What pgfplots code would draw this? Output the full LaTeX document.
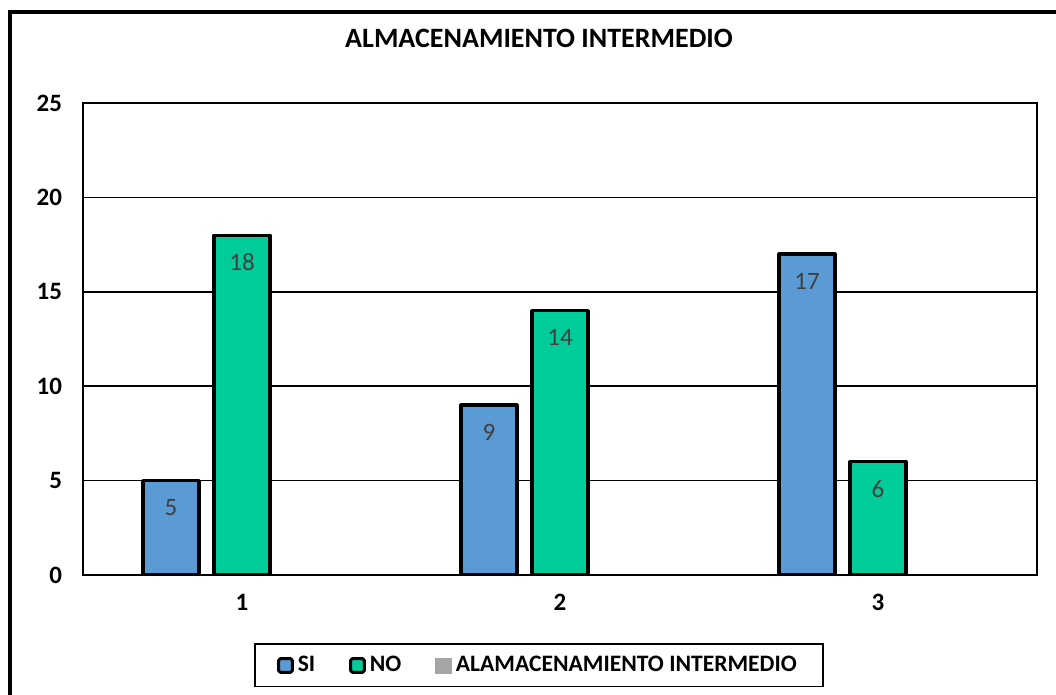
\documentclass[border=0pt]{standalone}
\usepackage{fontspec}
\setmainfont{Carlito}
\usepackage{pgfplots}
\pgfplotsset{compat=1.18}
\definecolor{siblue}{HTML}{5B9BD5}
\definecolor{nogreen}{HTML}{00CC99}
\definecolor{lbl}{HTML}{404040}
\definecolor{legray}{HTML}{A5A5A5}

\pgfplotsset{
  sqlegend/.style={legend image code/.code={%
    \draw[##1, line width=1.5pt, rounded corners=0.8pt] (0pt,-3.4pt) rectangle (6.8pt,3.4pt);}},
  graylegend/.style={legend image code/.code={%
    \fill[legray] (-0.3pt,-4pt) rectangle (7.2pt,3.5pt);}},
}

\begin{document}
\begin{tikzpicture}
\clip (-41.5pt,-60pt) rectangle (486.5pt,287.5pt);
% chart frame
\draw[black, line width=1.75pt] (-36.5pt,-67.5pt) rectangle (493.5pt,281.5pt);
\begin{axis}[
  at={(0pt,0pt)}, anchor=south west,
  scale only axis, width=477pt, height=236pt,
  xmin=0.5, xmax=3.5, ymin=0, ymax=25,
  xtick={1,2,3}, ytick={0,5,...,25},
  ymajorgrids, grid style={black, line width=0.75pt},
  axis line style={black, line width=0.75pt},
  major tick length=0pt,
  /pgf/number format/assume math mode=true,
  tick label style={font=\fontsize{12.5}{14}\selectfont\bfseries},
  yticklabel style={xshift=-7pt},
  xticklabel style={yshift=-6pt},
  title={ALMACENAMIENTO INTERMEDIO},
  title style={at={(0.478,1.112)}, anchor=center, font=\fontsize{14}{16}\selectfont\bfseries},
  ybar, bar width=28pt,
  nodes near coords,
  nodes near coords style={font=\fontsize{12.5}{14}\selectfont, text=lbl, anchor=center, yshift=-13.5pt},
  legend columns=3,
  legend style={at={(0.478,-0.1917)}, anchor=center, draw=black, line width=0.75pt,
    font=\fontsize{11.8}{14}\selectfont\bfseries,
    inner xsep=11pt, inner ysep=4pt,
    /tikz/every even column/.append style={column sep=15pt}},
]
\addplot[bar shift=-35.5pt, fill=siblue, draw=black, line width=1.6pt, line join=round, sqlegend]
  coordinates {(1,5) (2,9) (3,17)};
\addlegendentry{SI}
\addplot[bar shift=0pt, fill=nogreen, draw=black, line width=1.6pt, line join=round, sqlegend]
  coordinates {(1,18) (2,14) (3,6)};
\addlegendentry{NO}
\addlegendimage{graylegend}
\addlegendentry{ALAMACENAMIENTO INTERMEDIO}
\end{axis}
\end{tikzpicture}
\end{document}
